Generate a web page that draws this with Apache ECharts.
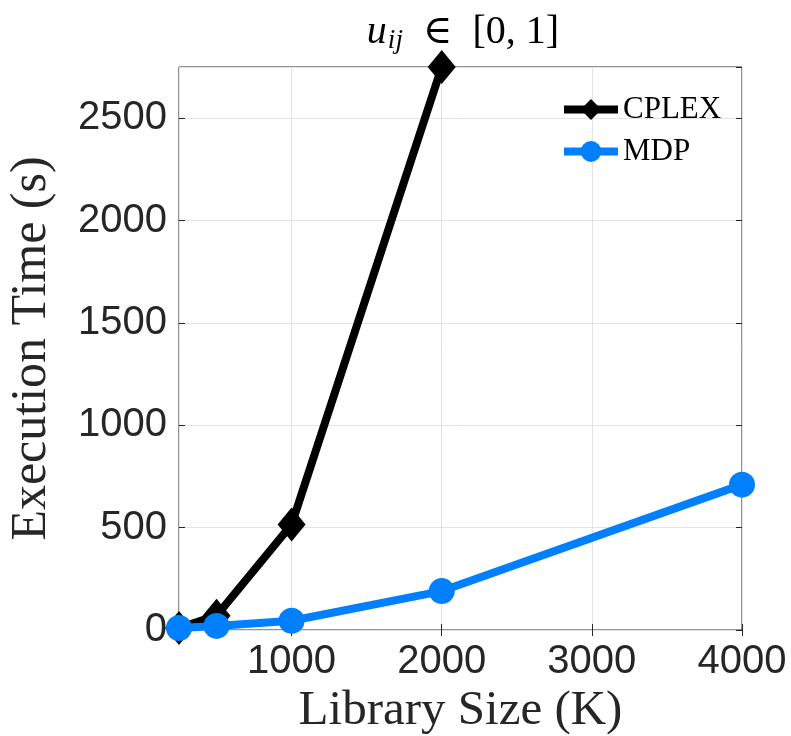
<!DOCTYPE html>
<html>
<head>
<meta charset="utf-8">
<script src="https://cdn.jsdelivr.net/npm/echarts@6/dist/echarts.min.js"></script>
<style>
  html, body { margin: 0; padding: 0; background: #fff; }
  #chart { width: 791px; height: 736px; }
</style>
</head>
<body>
<div id="chart"></div>
<script>
// library sizes (K) and execution times (s)
const libSizes = [250, 500, 1000, 2000, 4000];
const cplexTimes = [10, 70, 515, 2750];
const mdpTimes = [10, 20, 45, 190, 710];

const seriesNames = ['CPLEX', 'MDP'];
const xLabel = 'Library Size (K)';
const yLabel = 'Execution Time (s)';

const cplexData = cplexTimes.map((v, i) => [libSizes[i], v]);
const mdpData = mdpTimes.map((v, i) => [libSizes[i], v]);

const chart = echarts.init(document.getElementById('chart'), null, {renderer: 'canvas'});

const tickFont = 'Liberation Sans, Arial, sans-serif';
const serif = 'Liberation Serif, DejaVu Serif, serif';
const axisCol = '#262626';

const xBase = {
    type: 'value', min: 250, max: 4000,
    axisLine: {show: false},
    axisTick: {show: true, inside: true, length: 6, lineStyle: {color: axisCol}},
    splitLine: {show: false}
};
const yBase = {
    type: 'value', min: 0, max: 2750,
    axisLine: {show: false},
    axisTick: {show: true, inside: true, length: 6, lineStyle: {color: axisCol}},
    splitLine: {show: false}
};

chart.setOption({
    animation: false,
    backgroundColor: '#fff',
    title: {
        text: '{u|u}{s|ij}{t|  ∈  [0, 1]}',
        left: 458, top: 6, textAlign: 'center',
        textStyle: {
            fontWeight: 'normal',
            rich: {
                u: {fontFamily: serif, fontStyle: 'italic', fontSize: 40, color: '#000'},
                s: {fontFamily: serif, fontStyle: 'italic', fontSize: 27, color: '#000', verticalAlign: 'bottom', padding: [16, 0, 0, 1]},
                t: {fontFamily: serif, fontSize: 40, color: '#000'}
            }
        }
    },
    grid: {
        left: 179, right: 49, top: 67, bottom: 106,
        outerBoundsMode: 'none',
        show: true, borderColor: axisCol, borderWidth: 1, backgroundColor: '#fff'
    },
    legend: {
        data: seriesNames,
        orient: 'vertical',
        left: 555, top: 89,
        itemWidth: 54, itemHeight: 26, itemGap: 11,
        lineStyle: {width: 8},
        textStyle: {fontFamily: serif, fontSize: 31, color: '#000'}
    },
    xAxis: [
        Object.assign({}, xBase, {
            name: xLabel, nameLocation: 'middle', nameGap: 57,
            nameTextStyle: {fontFamily: serif, fontSize: 49, color: '#262626', letterSpacing: 2},
            splitLine: {show: true, lineStyle: {color: '#e3e3e3', width: 1}},
            axisLabel: {
                showMinLabel: false,
                formatter: v => String(v),
                fontFamily: tickFont, fontSize: 40, color: '#262626', margin: 12
            }
        }),
        Object.assign({}, xBase, {position: 'top', axisLabel: {show: false}})
    ],
    yAxis: [
        Object.assign({}, yBase, {
            name: yLabel, nameLocation: 'middle', nameGap: 122,
            nameTextStyle: {fontFamily: serif, fontSize: 50, color: '#262626', letterSpacing: 2},
            splitLine: {show: true, lineStyle: {color: '#e3e3e3', width: 1}},
            axisLabel: {
                showMaxLabel: false,
                formatter: v => String(v),
                fontFamily: tickFont, fontSize: 40, color: '#262626', margin: 12
            }
        }),
        Object.assign({}, yBase, {position: 'right', axisLabel: {show: false}})
    ],
    series: [
        {
            name: seriesNames[0], type: 'line', data: cplexData,
            symbol: 'diamond', symbolSize: [28, 34],
            lineStyle: {color: '#000', width: 8},
            itemStyle: {color: '#000'},
            z: 3
        },
        {
            name: seriesNames[1], type: 'line', data: mdpData,
            symbol: 'circle', symbolSize: 26,
            lineStyle: {color: '#0080ff', width: 8},
            itemStyle: {color: '#0080ff'},
            z: 4
        }
    ]
});
</script>
</body>
</html>
